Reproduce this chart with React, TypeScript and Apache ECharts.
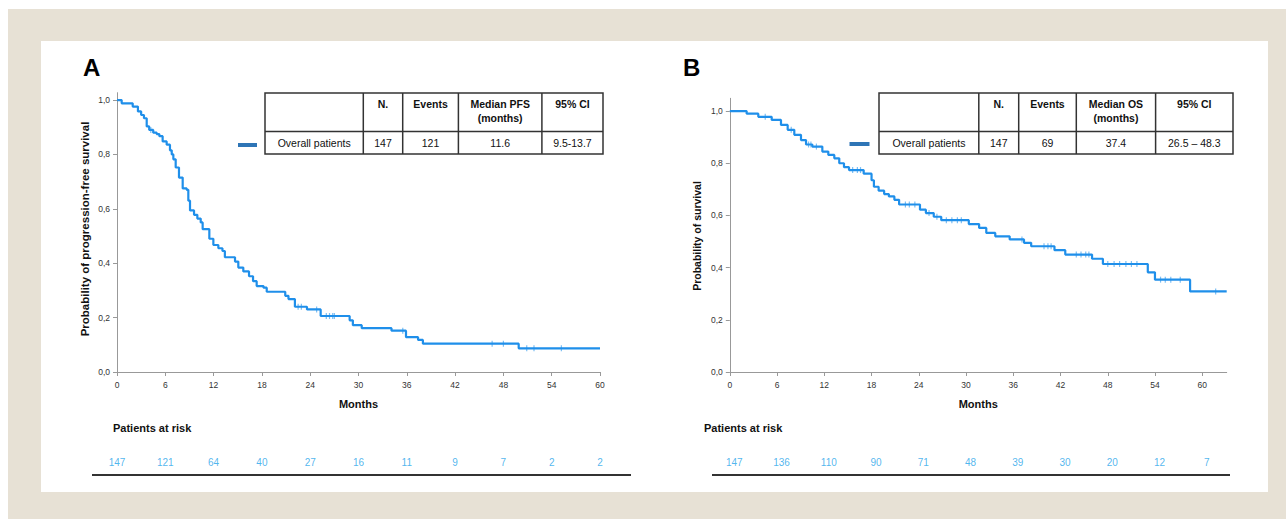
import React, { useEffect, useRef } from "react";
import * as echarts from "echarts";

// ---------- data ----------
const months = [0, 6, 12, 18, 24, 30, 36, 42, 48, 54, 60];
const yTicks = [0, 0.2, 0.4, 0.6, 0.8, 1.0];

// Kaplan-Meier PFS: [month, survival after the step]
const pfsCurve: [number, number][] = [
  [0, 1], [0.58, 0.988], [1.95, 0.976], [2.6, 0.958], [3.0, 0.945], [3.35, 0.933],
  [3.69, 0.903], [4.0, 0.89], [4.5, 0.88], [4.93, 0.875], [5.26, 0.867], [5.67, 0.848],
  [6.17, 0.836], [6.58, 0.815], [6.8, 0.8], [7.0, 0.782], [7.29, 0.752], [7.7, 0.715],
  [8.16, 0.675], [8.66, 0.67], [8.86, 0.63], [9.07, 0.594], [9.57, 0.578], [9.98, 0.564],
  [10.4, 0.55], [10.64, 0.525], [11.47, 0.49], [11.97, 0.467], [12.59, 0.455], [13.1, 0.445],
  [13.4, 0.422], [14.66, 0.406], [15.07, 0.384], [15.69, 0.37], [16.4, 0.352], [16.9, 0.334],
  [17.35, 0.316], [18.2, 0.31], [18.6, 0.295], [20.9, 0.28], [21.3, 0.268], [22.1, 0.24],
  [23.6, 0.23], [25.3, 0.206], [28.9, 0.19], [29.3, 0.172], [30.4, 0.161], [34.1, 0.152],
  [35.9, 0.128], [37.4, 0.118], [38.0, 0.104], [49.9, 0.087], [60, 0.087],
];
const pfsCensored = [4.2, 22.5, 22.9, 24.8, 26.0, 26.4, 26.8, 27.0, 35.5, 46.6, 48.0, 50.9, 51.8, 55.2];

// Kaplan-Meier OS
const osCurve: [number, number][] = [
  [0, 1], [2.14, 0.99], [3.62, 0.978], [5.32, 0.966], [6.5, 0.947], [7.35, 0.928],
  [8.19, 0.909], [9.04, 0.889], [9.68, 0.872], [10.48, 0.864], [11.75, 0.845], [12.51, 0.832],
  [13.27, 0.819], [13.9, 0.8], [14.5, 0.785], [15.14, 0.774], [17.0, 0.76], [18.0, 0.735],
  [18.3, 0.71], [18.9, 0.695], [19.6, 0.682], [20.2, 0.673], [20.9, 0.66], [21.5, 0.642],
  [24.15, 0.622], [24.9, 0.609], [25.9, 0.595], [26.85, 0.582], [30.35, 0.567], [31.66, 0.552],
  [32.57, 0.533], [33.71, 0.52], [35.54, 0.508], [37.36, 0.495], [38.27, 0.482], [41.23, 0.467],
  [42.6, 0.45], [46.0, 0.434], [47.38, 0.414], [53.08, 0.382], [53.99, 0.354], [58.45, 0.309],
  [63.1, 0.309],
];
const osCensored = [
  4.5, 7.8, 10.0, 10.3, 11.0, 15.6, 16.2, 16.6, 22.3, 22.8, 23.5, 25.3, 26.3, 27.5, 28.2,
  28.9, 29.4, 37.1, 39.9, 40.4, 40.8, 44.0, 44.6, 45.2, 45.6, 48.0, 48.8, 49.5, 50.3, 51.0,
  51.7, 54.7, 55.3, 56.0, 57.2, 61.7,
];

const pfsAtRisk = [147, 121, 64, 40, 27, 16, 11, 9, 7, 2, 2];
const osAtRisk = [147, 136, 110, 90, 71, 48, 39, 30, 20, 12, 7];

const pfsTableHeader = ["", "N.", "Events", "Median PFS\n(months)", "95% CI"];
const pfsTableRow = ["Overall patients", "147", "121", "11.6", "9.5-13.7"];
const osTableHeader = ["", "N.", "Events", "Median OS\n(months)", "95% CI"];
const osTableRow = ["Overall patients", "147", "69", "37.4", "26.5 – 48.3"];

// ---------- helpers ----------
const FONT = 'Arial, "Liberation Sans", sans-serif';
const CURVE = "#1f8fea";
const CENSOR = "#5aaef0";
const RISK = "#1fa4ea";

function survivalAt(curve: [number, number][], t: number) {
  let s = curve[0][1];
  for (const [x, y] of curve) {
    if (x <= t) s = y;
    else break;
  }
  return s;
}

function buildTable(
  x0: number, cols: number[], x1: number,
  y0: number, yDiv: number, y1: number,
  header: string[], row: string[]
) {
  const els: any[] = [];
  const stroke = { stroke: "#333", lineWidth: 1.5 };
  els.push({ type: "rect", z: 100, shape: { x: x0, y: y0, width: x1 - x0, height: y1 - y0 }, style: { fill: "#fff", ...stroke } });
  els.push({ type: "line", z: 101, shape: { x1: x0, y1: yDiv, x2: x1, y2: yDiv }, style: stroke });
  cols.forEach((c) => els.push({ type: "line", z: 101, shape: { x1: c, y1: y0, x2: c, y2: y1 }, style: stroke }));
  const edges = [x0, ...cols, x1];
  header.forEach((h, i) => {
    const cx = (edges[i] + edges[i + 1]) / 2;
    if (h) {
      els.push({ type: "text", z: 102, x: cx, y: y0 + 3.5, style: { text: h, font: `bold 10.5px ${FONT}`, fill: "#111", align: "center", verticalAlign: "top", lineHeight: 14.5 } });
    }
    els.push({ type: "text", z: 102, x: cx, y: (yDiv + y1) / 2, style: { text: row[i], font: `10.5px ${FONT}`, fill: "#111", align: "center", verticalAlign: "middle" } });
  });
  return els;
}

const yLabelFmt = (v: number) => v.toFixed(1).replace(".", ",");

function plotXAxis(grid: number, max: number) {
  return {
    gridIndex: grid, type: "value", min: 0, max,
    name: "Months", nameLocation: "middle", nameGap: 26,
    nameTextStyle: { fontFamily: FONT, fontWeight: "bold", fontSize: 11, color: "#111" },
    axisLine: { show: true, lineStyle: { color: "#999", width: 1 } },
    axisTick: { show: true, customValues: months, length: 4, lineStyle: { color: "#999" } },
    axisLabel: { show: true, customValues: months, margin: 8, fontSize: 8.5, color: "#333", fontFamily: FONT },
    splitLine: { show: false },
  };
}
function plotYAxis(grid: number, max: number) {
  return {
    gridIndex: grid, type: "value", min: 0, max,
    axisLine: { show: true, lineStyle: { color: "#999", width: 1 } },
    axisTick: { show: true, customValues: yTicks, length: 4, lineStyle: { color: "#999" } },
    axisLabel: { show: true, customValues: yTicks, margin: 7, fontSize: 8.5, color: "#333", fontFamily: FONT, formatter: yLabelFmt },
    splitLine: { show: false },
  };
}
function riskSeries(axis: number, values: number[]) {
  return {
    type: "scatter", xAxisIndex: axis, yAxisIndex: axis, silent: true, clip: false,
    symbol: "circle", symbolSize: 1, itemStyle: { color: "transparent" },
    data: months.map((m, i) => [m, 0.5, values[i]]),
    label: { show: true, position: "inside", formatter: (p: any) => String(p.value[2]), color: RISK, fontSize: 10, fontFamily: FONT },
  };
}

export default function App() {
  const ref = useRef<HTMLDivElement>(null);
  useEffect(() => {
    if (!ref.current) return;
    const chart = echarts.init(ref.current, null, { renderer: "svg" });
    const option: any = {
      animation: false,
      backgroundColor: "#ffffff",
      grid: [
        { left: 117, top: 92.7, width: 483, height: 279.3 },
        { left: 729.8, top: 98.3, width: 496.9, height: 273.7 },
        { left: 117, top: 462.2, width: 483, height: 1 },
        { left: 734.3, top: 462.2, width: 496.9, height: 1 },
      ],
      xAxis: [
        plotXAxis(0, 60),
        plotXAxis(1, 63.1),
        { gridIndex: 2, type: "value", min: 0, max: 60, show: false },
        { gridIndex: 3, type: "value", min: 0, max: 63.1, show: false },
      ],
      yAxis: [
        plotYAxis(0, 1.027),
        plotYAxis(1, 1.049),
        { gridIndex: 2, type: "value", min: 0, max: 1, show: false },
        { gridIndex: 3, type: "value", min: 0, max: 1, show: false },
      ],
      series: [
        { type: "line", xAxisIndex: 0, yAxisIndex: 0, step: "end", symbol: "none", silent: true, data: pfsCurve, lineStyle: { color: CURVE, width: 2.2 } },
        { type: "scatter", xAxisIndex: 0, yAxisIndex: 0, silent: true, symbol: "rect", symbolSize: [1.2, 6], itemStyle: { color: CENSOR }, data: pfsCensored.map((t) => [t, survivalAt(pfsCurve, t)]) },
        { type: "line", xAxisIndex: 1, yAxisIndex: 1, step: "end", symbol: "none", silent: true, data: osCurve, lineStyle: { color: CURVE, width: 2.2 } },
        { type: "scatter", xAxisIndex: 1, yAxisIndex: 1, silent: true, symbol: "rect", symbolSize: [1.2, 6], itemStyle: { color: CENSOR }, data: osCensored.map((t) => [t, survivalAt(osCurve, t)]) },
        riskSeries(2, pfsAtRisk),
        riskSeries(3, osAtRisk),
      ],
      graphic: [
        { type: "rect", z: -100, shape: { x: 8, y: 9, width: 1278, height: 510 }, style: { fill: "#e7e1d5" } },
        { type: "rect", z: -99, shape: { x: 41, y: 41, width: 1227, height: 451 }, style: { fill: "#ffffff" } },
        { type: "text", x: 83, y: 67, style: { text: "A", font: `bold 24px ${FONT}`, fill: "#000", align: "left", verticalAlign: "middle" } },
        { type: "text", x: 683, y: 67, style: { text: "B", font: `bold 24px ${FONT}`, fill: "#000", align: "left", verticalAlign: "middle" } },
        { type: "text", x: 85, y: 229, rotation: Math.PI / 2, style: { text: "Probability of progression-free survival", font: `bold 11.5px ${FONT}`, fill: "#111", align: "center", verticalAlign: "middle" } },
        { type: "text", x: 697.4, y: 236, rotation: Math.PI / 2, style: { text: "Probability of survival", font: `bold 10.5px ${FONT}`, fill: "#111", align: "center", verticalAlign: "middle" } },
        { type: "rect", shape: { x: 238, y: 143, width: 19, height: 4 }, style: { fill: "#2e75b6" } },
        { type: "rect", shape: { x: 849.5, y: 142, width: 20, height: 4 }, style: { fill: "#2e75b6" } },
        ...buildTable(265, [363.3, 402.7, 458.4, 541.9], 603, 93, 131.5, 154, pfsTableHeader, pfsTableRow),
        ...buildTable(879, [978.8, 1018.7, 1076.3, 1155.6], 1233, 93, 131.5, 154, osTableHeader, osTableRow),
        { type: "text", x: 113, y: 428, style: { text: "Patients at risk", font: `bold 11px ${FONT}`, fill: "#111", align: "left", verticalAlign: "middle" } },
        { type: "text", x: 704, y: 428, style: { text: "Patients at risk", font: `bold 11px ${FONT}`, fill: "#111", align: "left", verticalAlign: "middle" } },
        { type: "line", shape: { x1: 92, y1: 475, x2: 631, y2: 475 }, style: { stroke: "#333", lineWidth: 2 } },
        { type: "line", shape: { x1: 712, y1: 475, x2: 1230, y2: 475 }, style: { stroke: "#333", lineWidth: 2 } },
      ],
    };
    chart.setOption(option);
    return () => chart.dispose();
  }, []);
  return (
    <div style={{ position: "fixed", left: 0, top: 0, width: 1286, height: 519 }}>
      <div ref={ref} style={{ width: 1286, height: 519 }} />
    </div>
  );
}
